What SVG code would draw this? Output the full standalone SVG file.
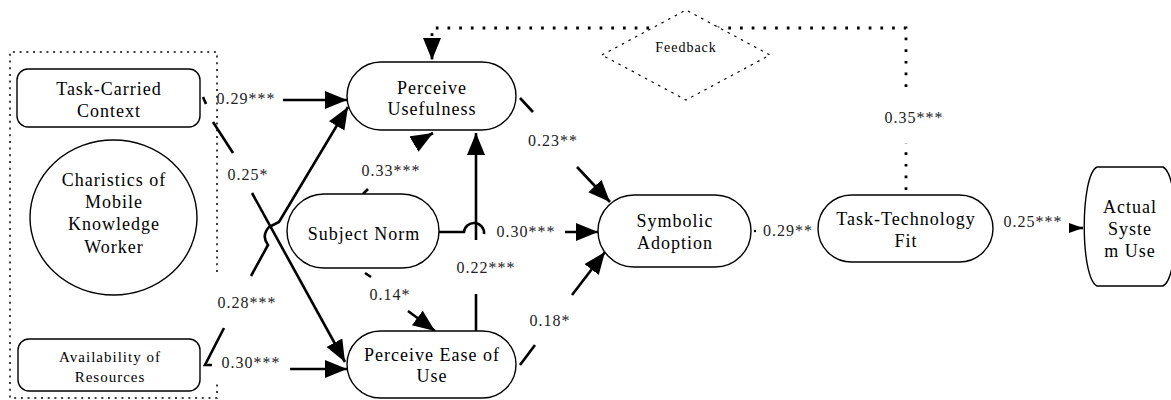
<svg xmlns="http://www.w3.org/2000/svg" width="1171" height="400" viewBox="0 0 1171 400" font-family="Liberation Serif, Times New Roman, serif">
<style>
.node{fill:#fff;stroke:#000;stroke-width:1.4}
.t{font-size:18px;letter-spacing:1px;text-anchor:middle;fill:#000}
.ts{font-size:15px}
.tf{font-size:14px}
.lbl{font-size:16px;letter-spacing:1px;text-anchor:middle;fill:#222}
.c{fill:none;stroke:#000;stroke-width:2.6}
.fb{fill:none;stroke:#000;stroke-width:2.8;stroke-dasharray:2.7 9}
.box{fill:none;stroke:#000;stroke-width:1.5;stroke-dasharray:2 4.7}
.dia{fill:#fff;stroke:#000;stroke-width:1.2;stroke-dasharray:2.5 5}
</style>
<defs>
<marker id="arr" markerUnits="userSpaceOnUse" markerWidth="24" markerHeight="20" refX="22" refY="9" orient="auto">
<path d="M0,0 L22,9 L0,18 z" fill="#000"/>
</marker>
<marker id="arrS" markerUnits="userSpaceOnUse" markerWidth="16" markerHeight="12" refX="14" refY="5" orient="auto">
<path d="M0,0 L14,5 L0,10 z" fill="#000"/>
</marker>
</defs>
<rect width="1171" height="400" fill="#fff"/>

<g id="group-box">
<path class="box" d="M217,272 V52 H10 V398 H217 V380"/>
</g>

<g id="connectors">
<path class="fb" d="M906,190 V143"/>
<path class="fb" d="M906,87 V28 H432 V60" marker-end="url(#arr)"/>
<path class="c" d="M203,97 L206,104" stroke-width="2"/>
<path class="c" d="M283,100 L347,100" marker-end="url(#arr)"/>
<path class="c" d="M213,122 L233,153"/>
<path class="c" d="M252,193 L345,362" marker-end="url(#arr)"/>
<path class="c" d="M212,365 L205,365 L224,328"/>
<path class="c" d="M251,276 L268,245 Q261,236 269,227 L279,222 L348,107" marker-end="url(#arr)"/>
<path class="c" d="M290,369 L347,369" marker-end="url(#arr)"/>
<path class="c" d="M363,194 L368,189" stroke-width="2"/>
<path class="c" d="M414,144 L433,133" marker-end="url(#arr)"/>
<path class="c" d="M476,331 V294"/>
<path class="c" d="M476,240 V133" marker-end="url(#arr)"/>
<path class="c" d="M439,232 H464 A10,10 0 0 1 484,234"/>
<path class="c" d="M565,232 H598" marker-end="url(#arr)"/>
<path class="c" d="M365,273 L371,277" stroke-width="2"/>
<path class="c" d="M408,311 L435,331" marker-end="url(#arr)"/>
<path class="c" d="M520,98 L533,112"/>
<path class="c" d="M577,167 L610,202" marker-end="url(#arr)"/>
<path class="c" d="M520,365 L535,345"/>
<path class="c" d="M572,295 L605,252" marker-end="url(#arr)"/>
<circle cx="755" cy="231" r="1.2" fill="#000"/>
<path class="c" d="M1069,228 H1083" stroke-width="1" marker-end="url(#arrS)"/>
</g>

<g id="labels">
<text class="lbl" x="246" y="104">0.29***</text>
<text class="lbl" x="248" y="180">0.25*</text>
<text class="lbl" x="247" y="308">0.28***</text>
<text class="lbl" x="251" y="368">0.30***</text>
<text class="lbl" x="391" y="176">0.33***</text>
<text class="lbl" x="553" y="146">0.23**</text>
<text class="lbl" x="486" y="273">0.22***</text>
<text class="lbl" x="526" y="237">0.30***</text>
<text class="lbl" x="390" y="300">0.14*</text>
<text class="lbl" x="550" y="326">0.18*</text>
<text class="lbl" x="788" y="236">0.29**</text>
<text class="lbl" x="1033" y="227">0.25***</text>
<text class="lbl" x="914" y="123">0.35***</text>
</g>

<g id="feedback">
<polygon class="dia" points="602,55 686,10 770,55 686,100"/>
<text class="t tf" x="686" y="52">Feedback</text>
</g>

<g id="task-carried">
<rect class="node" x="17" y="69" width="183" height="58" rx="11"/>
<text class="t" x="109" y="95">Task-Carried</text>
<text class="t" x="109" y="117">Context</text>
</g>

<g id="charistics">
<ellipse class="node" cx="113.5" cy="217.5" rx="83.5" ry="77.5"/>
<text class="t" x="114" y="186">Charistics of</text>
<text class="t" x="114" y="208">Mobile</text>
<text class="t" x="114" y="230">Knowledge</text>
<text class="t" x="114" y="253">Worker</text>
</g>

<g id="availability">
<rect class="node" x="18" y="339" width="182" height="52" rx="11"/>
<text class="t ts" x="110" y="362">Availability of</text>
<text class="t ts" x="110" y="382">Resources</text>
</g>

<g id="perceive-usefulness">
<rect class="node" x="347" y="62" width="169" height="68" rx="34"/>
<text class="t" x="432" y="94">Perceive</text>
<text class="t" x="432" y="115">Usefulness</text>
</g>

<g id="subject-norm">
<rect class="node" x="287" y="194" width="152" height="74" rx="37"/>
<text class="t" x="364" y="240">Subject Norm</text>
</g>

<g id="perceive-ease">
<rect class="node" x="347" y="331" width="169" height="67" rx="33.5"/>
<text class="t" x="432" y="361">Perceive Ease of</text>
<text class="t" x="432" y="382">Use</text>
</g>

<g id="symbolic-adoption">
<rect class="node" x="598" y="195" width="153" height="72" rx="36"/>
<text class="t" x="675" y="227">Symbolic</text>
<text class="t" x="675" y="249">Adoption</text>
</g>

<g id="task-technology-fit">
<rect class="node" x="818" y="195" width="175" height="67" rx="33.5"/>
<text class="t" x="906" y="225">Task-Technology</text>
<text class="t" x="906" y="247">Fit</text>
</g>

<g id="actual-system-use">
<path class="node" d="M1097,167 H1163 C1180,175 1180,278 1163,286 H1097 C1080,278 1080,175 1097,167 Z"/>
<text class="t" x="1130" y="213">Actual</text>
<text class="t" x="1130" y="235">Syste</text>
<text class="t" x="1130" y="257">m Use</text>
</g>
</svg>
